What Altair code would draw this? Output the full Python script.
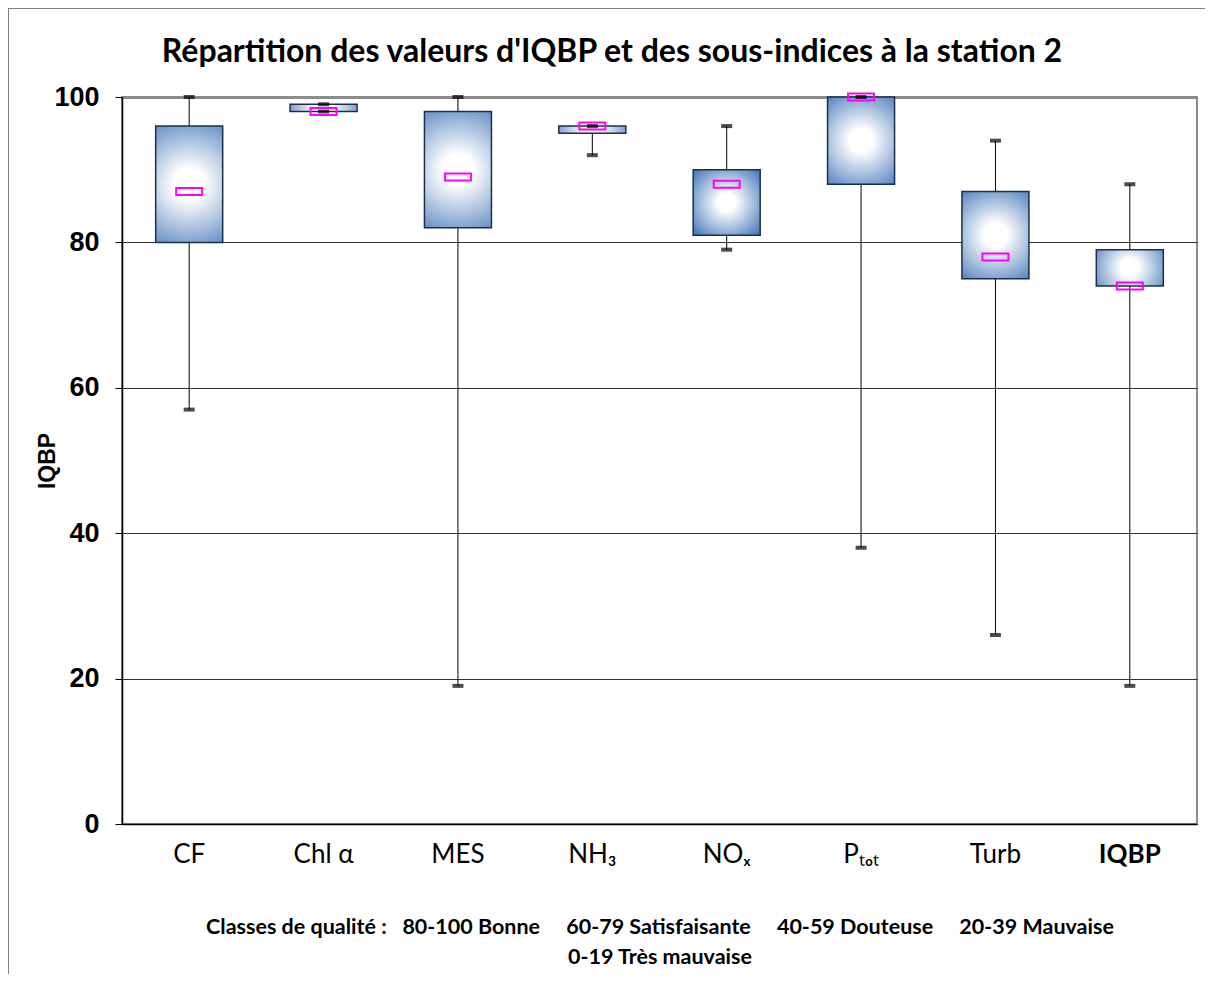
import altair as alt
import pandas as pd

categories = ["CF", "Chl α", "MES", "NH₃", "NOₓ", "Pₜₒₜ", "Turb", "IQBP"]
minimum = [57, 98, 19, 92, 79, 38, 26, 19]
q1 = [80, 98, 82, 95, 81, 88, 75, 74]
median = [87, 98, 89, 96, 88, 100, 78, 74]
q3 = [96, 99, 98, 96, 90, 100, 87, 79]
maximum = [100, 99, 100, 96, 96, 100, 94, 88]

y_ticks = [0, 20, 40, 60, 80, 100]
title_text = "Répartition des valeurs d'IQBP et des sous-indices à la station 2"
NB = "\u00a0"
legend_lines = [
    "Classes de qualité :" + NB * 3 + "80-100 Bonne" + NB * 5 + "60-79 Satisfaisante"
    + NB * 5 + "40-59 Douteuse" + NB * 5 + "20-39 Mauvaise",
    "0-19 Très mauvaise",
]

df = pd.DataFrame({"cat": categories, "min": minimum, "q1": q1, "median": median,
                   "q3": q3, "max": maximum})

W, H = 1075, 727

xenc = alt.X("cat:N", sort=categories,
             scale=alt.Scale(paddingInner=0.5, paddingOuter=0.25),
             axis=alt.Axis(title=legend_lines, labelAngle=0, labelFont="Lato",
                           labelFontSize=26, labelColor="black", labelPadding=17,
                           labelFontWeight=alt.expr("datum.value == 'IQBP' ? 'bold' : 'normal'"),
                           ticks=False, domainColor="black", domainWidth=1.5,
                           titleFont="Lato", titleFontSize=21.5, titleFontWeight="bold",
                           titleLineHeight=30, titlePadding=49, titleColor="black"))
yscale = alt.Scale(domain=[0, 100], nice=False)
yaxis = alt.Axis(title="IQBP", values=y_ticks, labelFont="Liberation Sans",
                 labelFontSize=27, labelFontWeight="bold", labelColor="black",
                 labelPadding=16, tickSize=7, tickColor="black", domainColor="black",
                 domainWidth=1.5,
                 gridColor=alt.expr("datum.value == 100 ? '#8c8c8c' : '#333333'"),
                 gridWidth=alt.expr("datum.value == 100 ? 3 : 1"),
                 titleFont="Liberation Sans", titleFontSize=23, titleFontWeight="bold",
                 titleColor="black", titleX=-75, titleBaseline="middle")

base = alt.Chart(df)

whisker = base.mark_rule(color="black", strokeWidth=1).encode(
    x=xenc, y=alt.Y("min:Q", scale=yscale, axis=yaxis), y2="max:Q")

grad = alt.Gradient(gradient="radial",
                    stops=[alt.GradientStop(color="white", offset=0),
                           alt.GradientStop(color="white", offset=0.2),
                           alt.GradientStop(color="#4a7cba", offset=1)],
                    x1=0.5, y1=0.5, r1=0, x2=0.5, y2=0.5, r2=0.66)

box = base.mark_bar(color=grad, stroke="#1c2e4a", strokeWidth=1.5, size=67).encode(
    x=xenc, y=alt.Y("q1:Q", scale=yscale), y2="q3:Q")

cap_min = base.mark_tick(color="black", thickness=4, size=11).encode(
    x=xenc, y=alt.Y("min:Q", scale=yscale))
cap_max = base.mark_tick(color="black", thickness=4, size=11).encode(
    x=xenc, y=alt.Y("max:Q", scale=yscale))

med = base.mark_point(shape="M-1,-0.27L1,-0.27L1,0.27L-1,0.27Z", size=676,
                      filled=False, stroke="#ff00ff", strokeWidth=2, opacity=1).encode(
    x=xenc, y=alt.Y("median:Q", scale=yscale))

frame_left = alt.Chart(df).mark_rule(color="#808080", strokeWidth=1).encode(
    x=alt.value(-113.5), y=alt.value(-88.5), y2=alt.value(H + 200))
frame_top = alt.Chart(df).mark_rule(color="#808080", strokeWidth=1).encode(
    x=alt.value(-113.5), x2=alt.value(W + 200), y=alt.value(-88.5))

title = alt.Chart(pd.DataFrame({"t": [title_text]})).mark_text(
    font="Lato", fontSize=32, fontWeight="bold", color="black",
    align="center", baseline="alphabetic").encode(
    text="t:N", x=alt.value(490), y=alt.value(-35))

chart = alt.layer(frame_left, frame_top, whisker, box, cap_min, cap_max, med, title).properties(
    width=W, height=H,
    autosize=alt.AutoSizeParams(type="none"),
    padding={"left": 114, "top": 89, "right": 8, "bottom": 150},
).configure_view(stroke="#8c8c8c", strokeWidth=2)

chart.save("out.html", embed_options={"renderer": "svg", "actions": False})
